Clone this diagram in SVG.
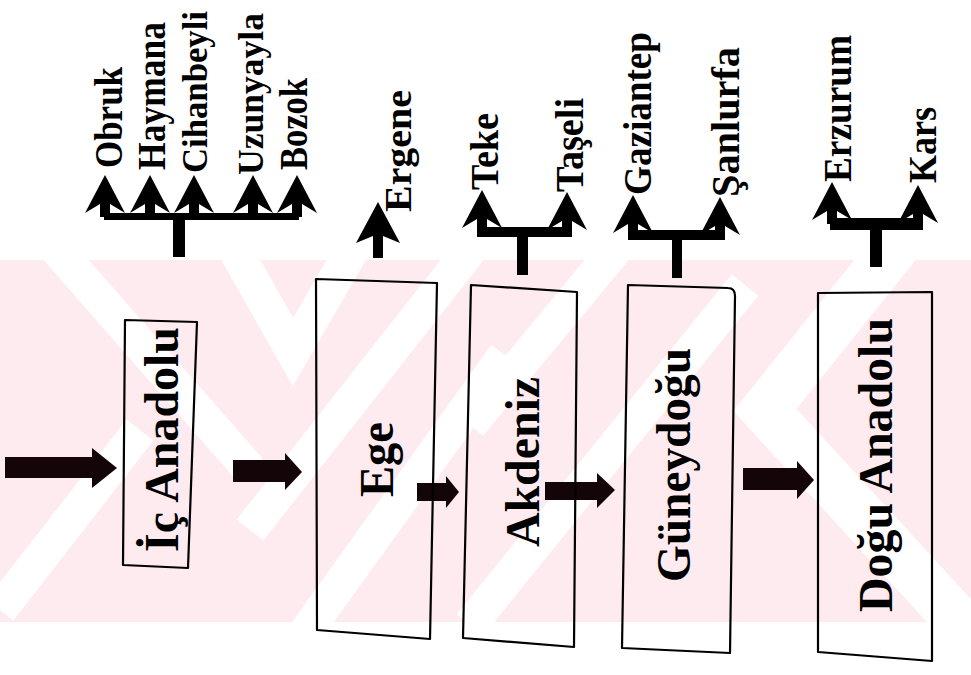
<svg xmlns="http://www.w3.org/2000/svg" width="971" height="675" viewBox="0 0 971 675">
  <defs>
    <style>
      .node-label { font-family: "Liberation Serif", "Times New Roman", serif; font-weight: bold; font-size: 48px; fill: #000; }
      .leaf-label { font-family: "Liberation Serif", "Times New Roman", serif; font-weight: bold; font-size: 40px; fill: #000; }
      .leaf-label.long { font-size: 35px; }
      .box { fill: none; stroke: #000; stroke-width: 2.2; stroke-linejoin: round; }
      .flow { fill: #140508; }
      .tree { fill: #000; }
      .gap { fill: none; stroke: #fff; stroke-width: 34; stroke-linejoin: miter; }
    </style>
    <clipPath id="band">
      <rect x="0" y="260" width="971" height="362"/>
    </clipPath>
    <!-- barbed arrowhead with a short shaft, tip at origin, pointing up -->
    <path id="barb" d="M0,0 L20,38 L5,29 L5,42 L-5,42 L-5,29 L-20,38 Z"/>
  </defs>

  <rect width="971" height="675" fill="#fff"/>

  <!-- background band with diagonal pattern -->
  <g id="background" clip-path="url(#band)">
    <rect x="0" y="260" width="971" height="362" fill="#fdebef"/>
    <polyline class="gap" points="40,230 250,470"/>
    <polyline class="gap" points="235,250 293,352 352,250"/>
    <polyline class="gap" points="470,250 250,530"/>
    <polyline class="gap" points="505,355 300,640"/>
    <polyline class="gap" points="615,250 470,425"/>
    <polyline class="gap" points="745,285 470,625"/>
    <polyline class="gap" style="stroke-width:48" points="905,235 765,410 985,650"/>
    <polyline class="gap" points="140,430 0,610"/>
  </g>

  <!-- connectors -->
  <g id="connectors">
    <!-- flow arrows between regions -->
    <path class="flow" d="M5,457 H92 V448 L117,468 L92,488 V478 H5 Z"/>
    <path class="flow" d="M233,460 H285 V453 L302,472 L285,490 V482 H233 Z"/>
    <path class="flow" d="M417,483 H446 V476 L459,492 L446,508 V501 H417 Z"/>
    <path class="flow" d="M545,482 H597 V473 L615,490 L597,508 V500 H545 Z"/>
    <path class="flow" d="M743,468 H797 V461 L814,480 L797,499 V490 H743 Z"/>

    <!-- İç Anadolu branches -->
    <g class="tree">
      <rect x="173" y="215" width="12" height="42"/>
      <rect x="104" y="213" width="195" height="7"/>
      <use href="#barb" x="105" y="175"/>
      <use href="#barb" x="150" y="175"/>
      <use href="#barb" x="194" y="175"/>
      <use href="#barb" x="253" y="175"/>
      <use href="#barb" x="297" y="175"/>
    </g>
    <!-- Ege branch -->
    <g class="tree">
      <path d="M378,202 L400,243 L383,236 L383,258 L373,258 L373,236 L356,243 Z"/>
    </g>
    <!-- Akdeniz branches -->
    <g class="tree">
      <rect x="517" y="236" width="11" height="39"/>
      <rect x="477" y="227" width="95" height="10"/>
      <use href="#barb" x="482" y="190"/>
      <use href="#barb" x="567" y="192"/>
    </g>
    <!-- Güneydoğu branches -->
    <g class="tree">
      <rect x="672" y="239" width="10" height="39"/>
      <rect x="628" y="230" width="97" height="10"/>
      <use href="#barb" x="633" y="195"/>
      <use href="#barb" x="720" y="197"/>
    </g>
    <!-- Doğu Anadolu branches -->
    <g class="tree">
      <rect x="870" y="229" width="12" height="38"/>
      <rect x="830" y="218" width="93" height="12"/>
      <use href="#barb" x="832" y="182"/>
      <use href="#barb" x="918" y="185"/>
    </g>
  </g>

  <!-- regions -->
  <g id="ic-anadolu">
    <polygon class="box" points="125,320 197,322 188,568 123,565"/>
    <text class="node-label" transform="translate(178,552) rotate(-90)" textLength="225" lengthAdjust="spacingAndGlyphs">İç Anadolu</text>
  </g>
  <g id="ege">
    <polygon class="box" points="316,279 437,283 430,639 317,630"/>
    <text class="node-label" transform="translate(393,497) rotate(-90)" textLength="75" lengthAdjust="spacingAndGlyphs">Ege</text>
  </g>
  <g id="akdeniz">
    <polygon class="box" points="471,285 577,292 574,647 463,638"/>
    <text class="node-label" transform="translate(539,547) rotate(-90)" textLength="170" lengthAdjust="spacingAndGlyphs">Akdeniz</text>
  </g>
  <g id="guneydogu">
    <path class="box" d="M628,285 L728,288 Q735,288 735,296 L730,653 L622,648 Z"/>
    <text class="node-label" transform="translate(690,582) rotate(-90)" textLength="234" lengthAdjust="spacingAndGlyphs">Güneydoğu</text>
  </g>
  <g id="dogu-anadolu">
    <polygon class="box" points="818,293 932,292 932,661 818,652"/>
    <text class="node-label" transform="translate(892,612) rotate(-90)" textLength="294" lengthAdjust="spacingAndGlyphs">Doğu Anadolu</text>
  </g>

  <!-- place names -->
  <g id="obruk"><text class="leaf-label" transform="translate(122,168) rotate(-90)" textLength="101" lengthAdjust="spacingAndGlyphs">Obruk</text></g>
  <g id="haymana"><text class="leaf-label" transform="translate(165,170) rotate(-90)" textLength="148" lengthAdjust="spacingAndGlyphs">Haymana</text></g>
  <g id="cihanbeyli"><text class="leaf-label long" transform="translate(207,173) rotate(-90)" textLength="162" lengthAdjust="spacingAndGlyphs">Cihanbeyli</text></g>
  <g id="uzunyayla"><text class="leaf-label long" transform="translate(263,175) rotate(-90)" textLength="162" lengthAdjust="spacingAndGlyphs">Uzunyayla</text></g>
  <g id="bozok"><text class="leaf-label" transform="translate(307,170) rotate(-90)" textLength="92" lengthAdjust="spacingAndGlyphs">Bozok</text></g>
  <g id="ergene"><text class="leaf-label" style="font-size:37px" transform="translate(411,212) rotate(-90)" textLength="122" lengthAdjust="spacingAndGlyphs">Ergene</text></g>
  <g id="teke"><text class="leaf-label" transform="translate(498,190) rotate(-90)" textLength="77" lengthAdjust="spacingAndGlyphs">Teke</text></g>
  <g id="taseli"><text class="leaf-label" transform="translate(583,192) rotate(-90)" textLength="94" lengthAdjust="spacingAndGlyphs">Taşeli</text></g>
  <g id="gaziantep"><text class="leaf-label" transform="translate(651,195) rotate(-90)" textLength="163" lengthAdjust="spacingAndGlyphs">Gaziantep</text></g>
  <g id="sanlurfa"><text class="leaf-label" transform="translate(739,197) rotate(-90)" textLength="150" lengthAdjust="spacingAndGlyphs">Şanlurfa</text></g>
  <g id="erzurum"><text class="leaf-label" transform="translate(851,182) rotate(-90)" textLength="147" lengthAdjust="spacingAndGlyphs">Erzurum</text></g>
  <g id="kars"><text class="leaf-label" transform="translate(936,183) rotate(-90)" textLength="76" lengthAdjust="spacingAndGlyphs">Kars</text></g>
</svg>
